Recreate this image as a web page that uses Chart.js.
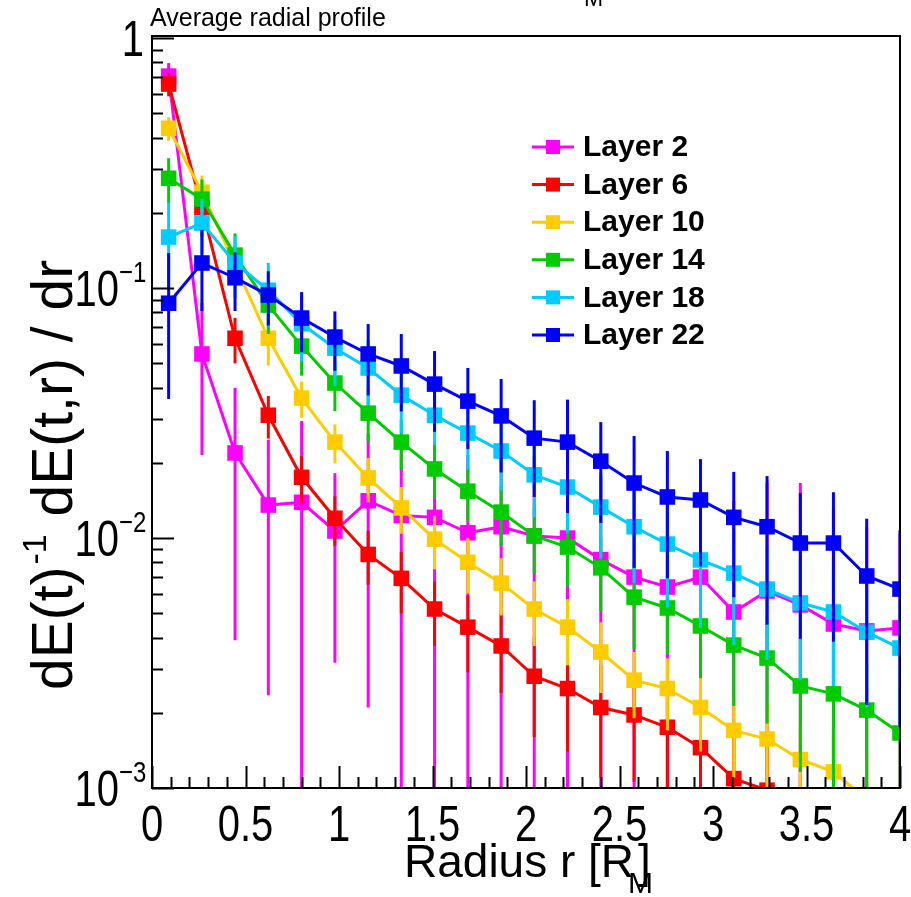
<!DOCTYPE html>
<html>
<head>
<meta charset="utf-8">
<script src="https://cdn.jsdelivr.net/npm/chart.js@4.4.0/dist/chart.umd.min.js"></script>
<style>
html, body { margin: 0; padding: 0; background: #fff; }
#wrap { width: 911px; height: 897px; }
</style>
</head>
<body>
<div id="wrap"><canvas id="c" width="911" height="897"></canvas></div>
<script>
// bin centres of the radial histogram, in Moliere radii
var radius = [0.089, 0.267, 0.444, 0.622, 0.8, 0.978, 1.156, 1.333, 1.511, 1.689, 1.867, 2.044,
              2.222, 2.4, 2.578, 2.756, 2.933, 3.111, 3.289, 3.467, 3.644, 3.822, 4.0];

var layerNames = ['Layer 2', 'Layer 6', 'Layer 10', 'Layer 14', 'Layer 18', 'Layer 22'];
var layerColors = ['#ff00ff', '#ff0000', '#ffcc00', '#00cc00', '#00ccff', '#0000ff'];

var layer2 = [0.705, 0.0545, 0.0219, 0.01355, 0.0139, 0.01067, 0.0141, 0.0123, 0.0121, 0.0105, 0.0111, 0.0102,
              0.0100, 0.0082, 0.00698, 0.00637, 0.00698, 0.00506, 0.00614, 0.0054, 0.00453, 0.00425, 0.00437];
var layer2Err = [0.09, 0.033, 0.018, 0.0112, 0.0155, 0.0075, 0.012, 0.012, 0.012, 0.011, 0.011, 0.011,
                 0.0105, 0.0095, 0.009, 0.009, 0.0095, 0.009, 0.0105, 0.0112, 0.0085, 0.0068, 0.006];

var layer6 = [0.655, 0.21, 0.063, 0.031, 0.0175, 0.012, 0.0086, 0.0069, 0.0052, 0.0044, 0.0037, 0.0028,
              0.0025, 0.0021, 0.00196, 0.00175, 0.00145, 0.00109, 0.00098, 0.0009, null, null, null];
var layer6Err = [0.07, 0.05, 0.013, 0.006, 0.0038, 0.0027, 0.0021, 0.0019, 0.0015, 0.0015, 0.0013, 0.0012,
                 0.0011, 0.001, 0.0009, 0.0009, 0.0008, 0.0007, 0.0006, 0.0005, 0, 0, 0];

var layer10 = [0.436, 0.242, 0.124, 0.063, 0.0363, 0.0242, 0.0174, 0.0132, 0.0099, 0.008, 0.0066, 0.0052,
               0.0044, 0.0035, 0.0027, 0.0025, 0.0021, 0.0017, 0.00157, 0.0013, 0.00116, 0.0009, null];
var layer10Err = [0.047, 0.04, 0.025, 0.014, 0.006, 0.0043, 0.0035, 0.0028, 0.0024, 0.002, 0.0017, 0.0015,
                  0.0013, 0.0011, 0.0008, 0.0008, 0.0007, 0.0006, 0.0006, 0.0005, 0.0005, 0.0004, 0];

var layer14 = [0.275, 0.227, 0.1355, 0.0855, 0.0586, 0.0417, 0.0316, 0.0242, 0.0189, 0.0154, 0.0127, 0.0102,
               0.0092, 0.0076, 0.0058, 0.00525, 0.00445, 0.00373, 0.00331, 0.00256, 0.00238, 0.00205, 0.00166];
var layer14Err = [0.056, 0.045, 0.03, 0.02, 0.014, 0.0095, 0.0075, 0.0055, 0.0045, 0.0038, 0.0034, 0.003,
                  0.0028, 0.0025, 0.0022, 0.0018, 0.0017, 0.0016, 0.0015, 0.0014, 0.0014, 0.0011, 0.0009];

var layer18 = [0.16, 0.182, 0.126, 0.098, 0.072, 0.0575, 0.0479, 0.0373, 0.031, 0.0263, 0.0223, 0.0179,
               0.016, 0.0133, 0.0111, 0.00946, 0.00817, 0.00724, 0.00625, 0.0055, 0.00506, 0.0042, 0.00363];
var layer18Err = [0.06, 0.045, 0.035, 0.028, 0.021, 0.017, 0.014, 0.011, 0.0075, 0.0075, 0.0068, 0.0058,
                  0.0055, 0.005, 0.0045, 0.0042, 0.0038, 0.0035, 0.003, 0.0028, 0.0025, 0.0021, 0.0019];

var layer22 = [0.087, 0.126, 0.11, 0.0938, 0.0759, 0.0637, 0.0545, 0.0488, 0.0413, 0.0353, 0.0308, 0.0251,
               0.0242, 0.0203, 0.0166, 0.0146, 0.0142, 0.0121, 0.0111, 0.00955, 0.00955, 0.00705, 0.00625];
var layer22Err = [0.051, 0.045, 0.029, 0.023, 0.0205, 0.017, 0.0173, 0.0167, 0.0147, 0.0126, 0.0125, 0.0105,
                  0.0116, 0.0088, 0.009, 0.0077, 0.0065, 0.0063, 0.0066, 0.0056, 0.0057, 0.0049, 0.0045];

var xTickValues = [0, 0.5, 1, 1.5, 2, 2.5, 3, 3.5, 4];
var xTickLabels = ['0', '0.5', '1', '1.5', '2', '2.5', '3', '3.5', '4'];
var yTickValues = [1, 0.1, 0.01, 0.001];
var yTickExp = ['', '\u22121', '\u22122', '\u22123'];

var allValues = [layer2, layer6, layer10, layer14, layer18, layer22];
var allErrors = [layer2Err, layer6Err, layer10Err, layer14Err, layer18Err, layer22Err];

var SANS = '"Liberation Sans", Arial, sans-serif';

// text squeezed sideways, like the condensed labels of the original
function narrowText(ctx, txt, x, y, align, sx) {
    ctx.save();
    ctx.translate(x, y);
    ctx.scale(sx, 1);
    ctx.textAlign = align;
    ctx.fillText(txt, 0, 0);
    ctx.restore();
}

// error bars, drawn just before each graph so the stacking follows ROOT
var errorBars = {
    id: 'errorBars',
    beforeDatasetDraw: function(chart, args) {
        var ds = chart.data.datasets[args.index];
        var ctx = chart.ctx, area = chart.chartArea;
        var xs = chart.scales.x, ys = chart.scales.y;
        ctx.save();
        ctx.beginPath();
        ctx.rect(area.left, area.top, area.right - area.left, area.bottom - area.top);
        ctx.clip();
        ctx.strokeStyle = ds.borderColor;
        ctx.lineWidth = 3;
        ds.data.forEach(function(p, i) {
            if (p.y == null || !ds.errors[i]) return;
            var px = xs.getPixelForValue(p.x);
            var hi = ys.getPixelForValue(p.y + ds.errors[i]);
            var lo = p.y - ds.errors[i] > 0 ? ys.getPixelForValue(p.y - ds.errors[i]) : area.bottom + 20;
            ctx.beginPath();
            ctx.moveTo(px, hi);
            ctx.lineTo(px, lo);
            ctx.stroke();
        });
        ctx.restore();
    }
};

// frame, ticks, labels, titles and legend in ROOT style
var rootFrame = {
    id: 'rootFrame',
    afterDraw: function(chart) {
        var ctx = chart.ctx, area = chart.chartArea;
        var xs = chart.scales.x, ys = chart.scales.y;
        ctx.save();
        ctx.strokeStyle = '#000';
        ctx.fillStyle = '#000';
        ctx.lineWidth = 2;
        ctx.strokeRect(area.left, area.top, area.right - area.left, area.bottom - area.top);

        // x ticks
        ctx.beginPath();
        for (var k = 0; k <= 40; k++) {
            var px = Math.round(xs.getPixelForValue(k / 10)) + 0.5;
            var len = (k % 5 === 0) ? 22 : 11;
            ctx.moveTo(px, area.bottom);
            ctx.lineTo(px, area.bottom - len);
        }
        // y ticks (log)
        for (var d = 1; d < yTickValues.length; d++) {
            var dec = yTickValues[d];
            for (var m = 1; m <= 9; m++) {
                var py = Math.round(ys.getPixelForValue(dec * m)) + 0.5;
                var l = (m === 1) ? 22 : 11;
                ctx.moveTo(area.left, py);
                ctx.lineTo(area.left + l, py);
            }
        }
        var p1 = Math.round(ys.getPixelForValue(1)) + 0.5;
        ctx.moveTo(area.left, p1);
        ctx.lineTo(area.left + 22, p1);
        ctx.stroke();

        // x labels
        ctx.font = '50px ' + SANS;
        ctx.textBaseline = 'alphabetic';
        xTickValues.forEach(function(v, i) {
            narrowText(ctx, xTickLabels[i], xs.getPixelForValue(v), 841, 'center', 0.8);
        });

        // y labels
        yTickValues.forEach(function(v, i) {
            var py = ys.getPixelForValue(v);
            if (!yTickExp[i]) {
                ctx.font = '50px ' + SANS;
                narrowText(ctx, '1', 144, py + 18, 'right', 0.8);
            } else {
                ctx.font = '50px ' + SANS;
                narrowText(ctx, '10', 119, py + 18, 'right', 0.8);
                ctx.font = '30px ' + SANS;
                narrowText(ctx, yTickExp[i], 119, py - 6, 'left', 0.8);
            }
        });

        // title
        ctx.textAlign = 'left';
        ctx.font = '25px ' + SANS;
        ctx.fillText('Average radial profile', 150, 26);
        ctx.font = '23px ' + SANS;
        ctx.fillText('M', 584, 6);

        // x axis title
        ctx.font = '46px ' + SANS;
        var t1 = 'Radius r [R';
        ctx.fillText(t1, 404, 877);
        var w1 = ctx.measureText(t1).width;
        ctx.fillText(']', 404 + w1 + 4, 877);
        ctx.font = '30px ' + SANS;
        ctx.fillText('M', 404 + w1 - 6, 893);

        // y axis title
        ctx.save();
        ctx.translate(72, 690);
        ctx.rotate(-Math.PI / 2);
        ctx.font = '57px ' + SANS;
        ctx.fillText('dE(t)', 0, 0);
        var wa = ctx.measureText('dE(t)').width;
        ctx.font = '34px ' + SANS;
        ctx.fillText('-1', wa + 2, -26);
        var wb = ctx.measureText('-1').width;
        ctx.font = '57px ' + SANS;
        ctx.fillText(' dE(t,r) / dr', wa + wb + 4, 0);
        ctx.restore();

        // legend
        chart.data.datasets.forEach(function(ds, i) {
            var ly = 147 + i * 37.6;
            ctx.strokeStyle = ds.borderColor;
            ctx.lineWidth = 3;
            ctx.beginPath();
            ctx.moveTo(532, ly);
            ctx.lineTo(574, ly);
            ctx.stroke();
            ctx.fillStyle = ds.borderColor;
            ctx.fillRect(546, ly - 7, 14, 14);
            ctx.fillStyle = '#000';
            ctx.font = 'bold 30px ' + SANS;
            ctx.textBaseline = 'middle';
            ctx.fillText(ds.label, 583, ly + 1);
            ctx.textBaseline = 'alphabetic';
        });
        ctx.restore();
    }
};

var datasets = allValues.map(function(vals, i) {
    return {
        label: layerNames[i],
        data: radius.map(function(r, j) { return {x: r, y: vals[j]}; }),
        errors: allErrors[i],
        borderColor: layerColors[i],
        backgroundColor: layerColors[i],
        borderWidth: 3,
        pointStyle: 'rect',
        pointRadius: 11,
        pointHoverRadius: 11,
        pointBorderWidth: 0,
        tension: 0,
        spanGaps: false,
        order: 5 - i
    };
});

var chart = new Chart(document.getElementById('c'), {
    type: 'line',
    data: {datasets: datasets},
    options: {
        responsive: false,
        animation: false,
        layout: {padding: {left: 152, right: 11, top: 36, bottom: 109}},
        scales: {
            x: {type: 'linear', min: 0, max: 4, display: false},
            y: {type: 'logarithmic', min: 0.001, max: 1.02, display: false}
        },
        plugins: {
            legend: {display: false},
            tooltip: {enabled: false}
        }
    },
    plugins: [errorBars, rootFrame]
});
</script>
</body>
</html>
